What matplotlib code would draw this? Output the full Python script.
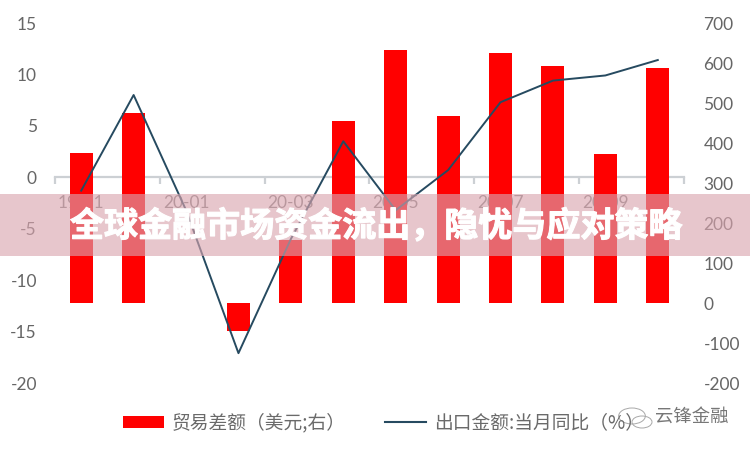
import matplotlib
matplotlib.use("Agg")
import matplotlib.pyplot as plt
import matplotlib.patheffects as pe
from matplotlib.patches import Rectangle, Circle
from matplotlib.lines import Line2D

plt.rcParams['font.family'] = ['Lato', 'Noto Sans CJK SC', 'DejaVu Sans']
plt.rcParams['axes.unicode_minus'] = False

categories = ['19-11', '19-12', '20-01', '20-02', '20-03', '20-04',
              '20-05', '20-06', '20-07', '20-08', '20-09', '20-10']
trade_balance = [375, 475, 0, -70, 157, 455, 632, 467, 625, 592, 372, 587]
export_yoy = [-1.3, 8.0, -3.2, -17.1, -6.0, 3.5, -3.2, 0.7, 7.3, 9.4, 9.9, 11.4]
left_ticks = [-20, -15, -10, -5, 0, 5, 10, 15]
right_ticks = [-200, -100, 0, 100, 200, 300, 400, 500, 600, 700]
bar_label = '贸易差额（美元;右）'
line_label = '出口金额:当月同比（%）'
title = '全球金融市场资金流出，隐忧与应对策略'
watermark = '云锋金融'

W, H = 750, 450
fig = plt.figure(figsize=(7.5, 4.5), dpi=100, facecolor='white')
rect = [55 / W, 1 - 383 / H, (684 - 55) / W, 360 / H]
ax = fig.add_axes(rect, zorder=1)
ax2 = fig.add_axes(rect, zorder=2, sharex=ax)
ax2.patch.set_visible(False)

x = list(range(len(categories)))
ax.set_xlim(-0.5, 11.5)
ax.set_ylim(-20, 15)
ax2.set_ylim(-200, 700)

bars = ax2.bar(x, trade_balance, width=0.44, color='#ff0000', linewidth=0)
line, = ax2.plot(x, export_yoy, color='#264a60', lw=1.4, transform=ax.transData, zorder=3)

for s in ax.spines.values():
    s.set_visible(False)
for s in ax2.spines.values():
    s.set_visible(False)
ax.spines['bottom'].set_visible(True)
ax.spines['bottom'].set_position(('data', 0))
ax.spines['bottom'].set_color('#ccd0d4')
ax.spines['bottom'].set_linewidth(1.6)

grey = '#666666'
ax.set_yticks(left_ticks)
ax.tick_params(axis='y', length=0, labelsize=12.5, labelcolor=grey, pad=13)
ax.set_xticks(x[::2])
ax.set_xticklabels(categories[::2])
ax.set_xticks([i - 0.5 for i in x[::2]] + [11.5], minor=True)
ax.tick_params(axis='x', which='major', length=0, labelsize=12.5, labelcolor='#808080', pad=13)
ax.tick_params(axis='x', which='minor', length=5, width=1.6, color='#ccd0d4', direction='out')

ax2.yaxis.tick_right()
ax2.set_yticks(right_ticks)
ax2.tick_params(axis='y', length=0, labelsize=12.5, labelcolor=grey, pad=14)
ax2.tick_params(axis='x', which='both', length=0, labelbottom=False)

fig.add_artist(Rectangle((0, 1 - 256 / H), 1, 62 / H, transform=fig.transFigure,
                         facecolor=(218 / 255, 165 / 255, 175 / 255), alpha=0.63,
                         linewidth=0, zorder=10))
fig.text(376 / W, 1 - 226 / H, title, color='white', fontsize=24.5, fontweight='bold',
         family=['Noto Sans CJK SC', 'DejaVu Sans'], ha='center', va='center', zorder=11,
         path_effects=[pe.withStroke(linewidth=0.8, foreground='white')])

handles = [Rectangle((0, 0), 1, 1, facecolor='#ff0000', linewidth=0),
           Line2D([0], [0], color='#264a60', lw=1.5)]
leg = fig.legend(handles, [bar_label, line_label], ncol=2, frameon=False,
                 loc='center left', bbox_to_anchor=(106 / W, 1 - 423 / H),
                 prop={'family': ['Noto Sans CJK SC', 'DejaVu Sans'], 'size': 13.5, 'weight': 'light'},
                 labelcolor='#6a6a6a', handlelength=2.2, handleheight=0.6,
                 handletextpad=0.4, columnspacing=2.1)

fig.text(655 / W, 1 - 417 / H, watermark, color='#777777', fontsize=13.2,
         family=['Noto Sans CJK SC', 'DejaVu Sans'], ha='left', va='center', zorder=11)
for cx, cy, r in [(632, 416, 8), (642, 422, 6)]:
    fig.add_artist(Circle((cx / W, 1 - cy / H), r / H, transform=fig.transFigure,
                          fill=False, edgecolor='#a8a8a8', linewidth=0.7))

fig.savefig('out.png', dpi=100)
